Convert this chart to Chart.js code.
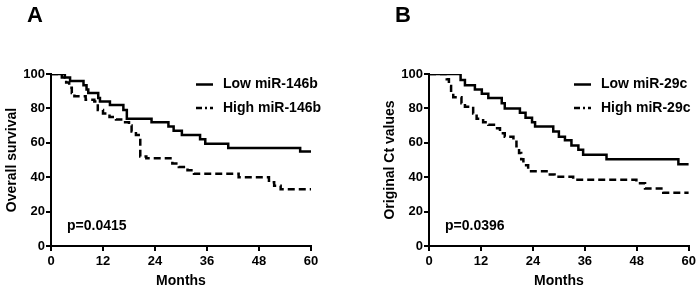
<!DOCTYPE html>
<html lang="en">
<head>
    <meta charset="utf-8">
    <title>Survival curves</title>
    <script src="https://cdn.jsdelivr.net/npm/chart.js"></script>
    <style>
        body { margin: 0; background: #fff; width: 699px; height: 291px; overflow: hidden; position: relative; }
        canvas { position: absolute; top: 0; }
    </style>
</head>
<body>
    <canvas id="chartA" width="378" height="291" style="left:0px"></canvas>
    <canvas id="chartB" width="321" height="291" style="left:378px"></canvas>
<script>
    // panel A - miR-146b
    let lowA_months  = [0, 3.2, 4.4, 7.5, 8.2, 8.6, 10.9, 11.3, 13.6, 16.7, 17.5, 23.2, 27.1, 28.3, 30.2, 34.4, 35.6, 40.9, 57.5, 60]
    let lowA_surv    = [100, 98, 96, 93.5, 91, 89, 86, 84, 82, 79, 74, 72, 69.5, 67, 64.5, 62, 59.5, 57, 55, 55]
    let highA_months = [0, 2.5, 3.5, 4.2, 4.8, 5.4, 8, 10, 10.8, 12, 13.5, 15, 16.5, 18, 18.6, 19.6, 20.6, 22, 28, 29.5, 31.5, 33, 43.3, 50.3, 51.5, 53, 60]
    let highA_surv   = [100, 98, 95, 92, 89, 87, 85, 84, 79, 77, 75, 73.5, 72, 70, 66.5, 64.5, 52, 51, 48, 46, 44, 42, 40, 37, 35, 33, 33]

    // panel B - miR-29c
    let lowB_months  = [0, 7.3, 8.3, 10.6, 12.2, 13.7, 16.8, 17.5, 21, 22.3, 23.8, 24.5, 28.7, 30, 31.4, 32.9, 34.5, 35.6, 41, 57.6, 60]
    let lowB_surv    = [100, 96.5, 93.5, 91, 88.5, 86, 83, 80, 77.5, 74.5, 72, 69.5, 66.5, 63.5, 61.5, 58.5, 56, 53, 50.5, 47.5, 47.5]
    let highB_months = [0, 4.1, 4.6, 5.1, 5.6, 7.5, 8.3, 10.2, 11, 12.5, 13.7, 15, 16.4, 17.5, 19.5, 20.2, 20.8, 21.3, 21.8, 22.9, 27.9, 29, 33.3, 47.9, 49.9, 54.1, 60]
    let highB_surv   = [100, 97, 93, 89, 86.5, 83, 81, 77, 74, 72, 70.5, 68.5, 65.5, 63.5, 61.5, 58, 54, 50.5, 47, 43.5, 41.5, 40.3, 38.5, 36.5, 33.5, 31, 31]

    let xTicks = [0, 12, 24, 36, 48, 60]
    let yTicks = [0, 20, 40, 60, 80, 100]

    const FONT = '"Liberation Sans", Arial, sans-serif'

    function toPoints(xs, ys) {
        return xs.map((x, i) => ({ x: x, y: ys[i] }))
    }

    // letter, p value and legend drawn on top of the chart
    const panelText = {
        id: 'panelText',
        afterDraw(chart, args, opts) {
            const ctx = chart.ctx
            const a = chart.chartArea
            ctx.save()
            ctx.fillStyle = '#000'
            ctx.strokeStyle = '#000'
            ctx.textBaseline = 'middle'
            ctx.textAlign = 'left'

            ctx.font = 'bold 22px ' + FONT
            ctx.fillText(opts.letter, opts.letterX, 16)

            ctx.font = 'bold 14px ' + FONT
            ctx.fillText(opts.pText, a.left + 16, 226)

            ctx.lineWidth = 2.5
            ctx.beginPath()
            ctx.moveTo(a.left + 145, 84.5)
            ctx.lineTo(a.left + 162, 84.5)
            ctx.stroke()
            ctx.setLineDash([6, 3, 2, 3])
            ctx.beginPath()
            ctx.moveTo(a.left + 145, 108)
            ctx.lineTo(a.left + 162, 108)
            ctx.stroke()
            ctx.setLineDash([])

            ctx.fillText(opts.names[0], a.left + 172, 84.5)
            ctx.fillText(opts.names[1], a.left + 172, 108)
            ctx.restore()
        }
    }

    function makePanel(id, letter, letterX, yTitle, pText, names, low, high, rightPad) {
        let ctx = document.getElementById(id).getContext('2d')
        return new Chart(ctx, {
            type: 'line',
            data: {
                datasets: [{
                    label: names[0],
                    data: low,
                    borderColor: '#000',
                    borderWidth: 2.5,
                    pointRadius: 0,
                    stepped: true,
                    fill: false
                }, {
                    label: names[1],
                    data: high,
                    borderColor: '#000',
                    borderWidth: 2.5,
                    borderDash: [7, 4],
                    pointRadius: 0,
                    stepped: true,
                    fill: false
                }]
            },
            options: {
                responsive: false,
                animation: false,
                devicePixelRatio: 1,
                layout: { padding: { left: 0, top: 74, right: rightPad, bottom: 0 } },
                plugins: {
                    legend: { display: false },
                    tooltip: { enabled: false },
                    panelText: { letter: letter, letterX: letterX, pText: pText, names: names }
                },
                scales: {
                    x: {
                        type: 'linear',
                        min: 0,
                        max: 60,
                        border: { color: '#000', width: 2 },
                        grid: { drawOnChartArea: false, color: '#000', lineWidth: 2, tickLength: 5 },
                        ticks: { color: '#000', padding: 3, maxRotation: 0, font: { family: FONT, size: 13, weight: 'bold' } },
                        afterBuildTicks: s => { s.ticks = xTicks.map(v => ({ value: v })) },
                        title: { display: true, text: 'Months', color: '#000', padding: { top: 0, bottom: 1 }, font: { family: FONT, size: 14, weight: 'bold' } },
                        afterFit: s => { s.height = 45 }
                    },
                    y: {
                        min: 0,
                        max: 100,
                        border: { color: '#000', width: 2 },
                        grid: { drawOnChartArea: false, color: '#000', lineWidth: 2, tickLength: 5 },
                        ticks: { color: '#000', padding: 1, font: { family: FONT, size: 13, weight: 'bold' } },
                        afterBuildTicks: s => { s.ticks = yTicks.map(v => ({ value: v })) },
                        title: { display: true, text: yTitle, color: '#000', padding: { top: 4, bottom: 0 }, font: { family: FONT, size: 14, weight: 'bold' } },
                        afterFit: s => { s.width = 51 }
                    }
                }
            },
            plugins: [panelText]
        })
    }

    makePanel('chartA', 'A', 27, 'Overall survival', 'p=0.0415',
        ['Low miR-146b', 'High miR-146b'],
        toPoints(lowA_months, lowA_surv), toPoints(highA_months, highA_surv), 67)

    makePanel('chartB', 'B', 17, 'Original Ct values', 'p=0.0396',
        ['Low miR-29c', 'High miR-29c'],
        toPoints(lowB_months, lowB_surv), toPoints(highB_months, highB_surv), 10)
</script>
</body>
</html>
